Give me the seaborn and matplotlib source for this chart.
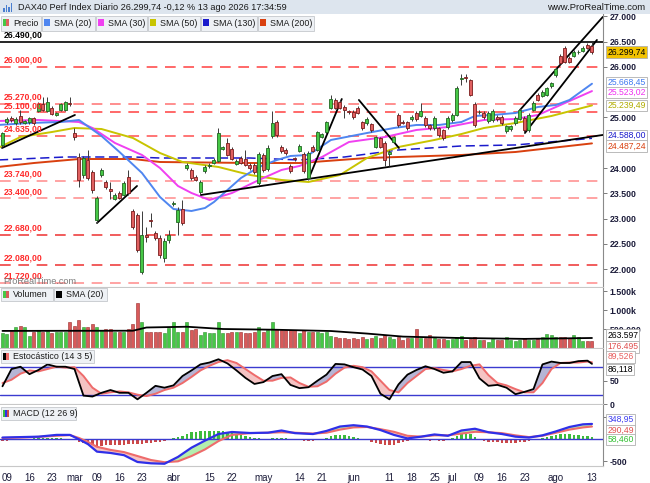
import numpy as np
import pandas as pd
import matplotlib
matplotlib.use("Agg")
import matplotlib.pyplot as plt
from matplotlib.patches import Rectangle
import seaborn as sns

# trading days (Xetra holidays removed)
dates = pd.bdate_range("2026-02-06", "2026-08-13")
dates = dates.drop(pd.to_datetime(["2026-04-03", "2026-04-06", "2026-05-01"]))
bars = np.arange(len(dates))

open_ = [24460, 24910, 24990, 24890, 25030, 24890, 24910, 24990, 25130, 25270, 25130, 25190, 25050, 25150, 25150, 25290,
         24690, 24220, 23860, 24160, 23920, 22970, 23860, 23720, 23590, 23390, 23500, 23470, 23820, 23150, 23070, 21940,
         22670, 22970, 22710, 22610, 22220, 22570, 23290, 22930, 23190, 24000, 23960, 23820, 23530, 23940, 24030, 24100,
         24140, 24380, 24500, 24380, 24080, 24200, 24180, 24060, 24060, 23700, 24260, 23980, 24630, 24910, 24420, 24360,
         24040, 24190, 24340, 24280, 23800, 24420, 24360, 24620, 24710, 25190, 25350, 25310, 25210, 25120, 25110, 25190,
         24910, 24890, 24870, 24420, 24590, 24500, 24280, 24520, 25050, 24920, 24910, 24970, 25090, 25030, 24990, 24850,
         24790, 24790, 24750, 24810, 24950, 25050, 25770, 25800, 25740, 25270, 25100, 25090, 24930, 24950, 25010, 25010,
         24730, 24770, 24890, 24970, 24990, 24750, 25150, 25450, 25430, 25450, 25620, 25840, 26220, 26380, 26180, 26220,
         26290, 26320, 26440, 26420]
close = [24690, 24970, 24950, 24970, 24910, 24930, 24990, 24890, 25270, 25150, 25310, 25070, 25090, 25270, 25310, 25270,
         24610, 23760, 24200, 23800, 23560, 23410, 23960, 23620, 23550, 23470, 23410, 23700, 23500, 22830, 22380, 22670,
         22630, 22950, 22610, 22280, 22560, 22670, 23310, 23170, 22910, 24060, 23800, 23770, 23720, 24020, 24050, 24160,
         24690, 24410, 24260, 24180, 24140, 24100, 24060, 24000, 23920, 24280, 23960, 24400, 24890, 24650, 24340, 24300,
         23940, 24170, 24440, 23940, 24300, 24340, 24710, 24670, 24910, 25370, 25190, 25190, 25150, 25100, 25010, 25090,
         24790, 24970, 24750, 24610, 24420, 24160, 24320, 24610, 24850, 24900, 24790, 25010, 24970, 25130, 24850, 24790,
         24990, 24650, 24590, 24990, 25050, 25580, 25790, 25780, 25450, 24850, 25110, 25010, 25090, 25130, 24970, 24890,
         24830, 24830, 24990, 25150, 24750, 25050, 25290, 25350, 25510, 25580, 25680, 25960, 26080, 26100, 26100, 26300,
         26300, 26380, 26380, 26299.74]
high = [24720, 25010, 25020, 25000, 25150, 24960, 25010, 25010, 25300, 25400, 25400, 25220, 25110, 25290, 25330, 25400,
        24790, 24300, 24240, 24360, 23960, 23440, 24000, 23760, 23720, 23500, 23540, 23740, 23960, 23190, 23110, 23150,
        22830, 23110, 22750, 22670, 22610, 22770, 23350, 23230, 23370, 24100, 24000, 23860, 23760, 24050, 24100, 24190,
        24790, 24440, 24600, 24410, 24170, 24230, 24360, 24090, 24100, 24320, 24300, 24450, 25120, 24950, 24460, 24390,
        24080, 24220, 24470, 24310, 24340, 24450, 24740, 24700, 24940, 25440, 25380, 25340, 25240, 25150, 25140, 25220,
        24940, 25000, 24900, 24640, 24620, 24530, 24360, 24640, 25080, 24950, 24940, 25040, 25120, 25280, 25020, 24880,
        25020, 24820, 24780, 25020, 25080, 25620, 25870, 25860, 25770, 25300, 25150, 25120, 25120, 25160, 25040, 25040,
        24860, 24860, 25020, 25180, 25020, 25080, 25320, 25480, 25540, 25610, 25710, 25990, 26250, 26410, 26210, 26330,
        26340, 26420, 26480, 26500]
low = [24420, 24880, 24920, 24860, 24880, 24870, 24880, 24860, 25100, 25120, 25110, 25040, 25030, 25130, 25120, 25220,
       24560, 23630, 23800, 23760, 23500, 22920, 23820, 23580, 23380, 23360, 23380, 23440, 23470, 22790, 22340, 21900,
       22540, 22830, 22580, 22220, 22140, 22510, 23250, 22670, 22870, 23960, 23770, 23740, 23470, 23900, 24000, 24070,
       24120, 24350, 24230, 24150, 24050, 24070, 24030, 23970, 23890, 23660, 23920, 23940, 24600, 24620, 24300, 24260,
       23900, 24140, 24310, 23900, 23770, 24310, 24330, 24590, 24680, 25160, 25160, 25160, 24990, 25070, 24980, 25060,
       24760, 24860, 24720, 24390, 24390, 24040, 24040, 24490, 24820, 24870, 24760, 24940, 24940, 25000, 24820, 24760,
       24760, 24620, 24560, 24780, 24920, 25020, 25640, 25700, 25420, 24820, 25060, 24980, 24900, 24920, 24940, 24860,
       24700, 24740, 24860, 24950, 24720, 24720, 25120, 25320, 25400, 25420, 25590, 25810, 26050, 26070, 26070, 26190,
       26250, 26290, 26350, 26260]

# volume in thousands
volume = [386, 360, 447, 561, 588, 561, 325, 421, 474, 421, 447, 386, 421, 421, 421, 675,
          579, 737, 544, 544, 623, 544, 474, 491, 491, 430, 421, 421, 491, 632, 1175, 693,
          430, 421, 421, 421, 386, 518, 693, 421, 421, 693, 474, 491, 342, 421, 386, 386,
          693, 386, 386, 421, 421, 421, 386, 386, 421, 544, 421, 474, 693, 491, 474, 474,
          474, 474, 386, 474, 421, 421, 421, 386, 421,
          316, 281, 254, 254, 228, 254, 228, 281, 228, 254, 316, 254, 342, 281, 228, 281,
          210, 254, 254, 500, 254, 254, 342, 254, 228, 228, 210, 228, 281, 316, 210, 228,
          281, 210, 210, 167, 228, 210, 210, 281, 210, 193, 210, 254, 210, 210, 228, 281,
          368, 342, 281, 281, 281, 254, 342, 281, 193, 193, 176.495]
vol_sma_bars = [0, 29, 32, 41, 49, 61, 73, 81, 89, 101, 116, 131]
vol_sma_vals = [450, 455, 540, 560, 500, 480, 447, 380, 300, 265, 240, 263.597]

# moving averages on price (vertices)
sma20_bars = [-1, 6, 13, 17, 22, 26, 31, 35, 38, 42, 45, 47, 50, 53, 57, 61, 64, 68, 73, 81, 87, 92, 97, 102, 105,
              109, 114, 119, 123, 126, 131]
sma20_vals = [24852, 24891, 24911, 24951, 24634, 24317, 23901, 23426, 23188, 23149, 23208, 23327, 23565, 23802, 24020,
              24159, 24238, 24258, 24555, 24693, 24792, 24852, 24852, 24911, 25030, 25050, 25089, 25208, 25248, 25347,
              25668.45]
sma30_bars = [-1, 8, 17, 20, 25, 31, 35, 39, 42, 46, 51, 57, 62, 66, 71, 77, 85, 92, 99, 107, 114, 119, 123, 131]
sma30_vals = [24931, 24951, 24911, 24792, 24495, 24258, 24000, 23644, 23505, 23367, 23505, 23763, 23961, 24040, 24218,
              24515, 24614, 24753, 24812, 24951, 24970, 25050, 25208, 25523.02]
sma50_bars = [-1, 4, 11, 16, 22, 29, 35, 40, 48, 55, 62, 68, 75, 81, 88, 96, 102, 107, 114, 122, 131]
sma50_vals = [24396, 24614, 24713, 24792, 24772, 24594, 24297, 24119, 24020, 23862, 23763, 23723, 23862, 24198, 24416,
              24555, 24673, 24792, 24891, 25030, 25239.49]
sma130_bars = [-1, 14, 29, 35, 55, 66, 76, 88, 102, 114, 131]
sma130_vals = [24159, 24218, 24218, 24198, 24198, 24159, 24218, 24357, 24436, 24456, 24588.00]
sma200_bars = [-1, 7, 17, 29, 35, 55, 66, 81, 102, 114, 131]
sma200_vals = [24020, 24099, 24178, 24178, 24119, 24099, 24099, 24198, 24258, 24317, 24487.24]

# drawn trend lines: (bar0, price0, bar1, price1)
trend_lines = [(-0.1, 24396, 16.1, 25050), (21, 22911, 29.9, 23644), (44.1, 23466, 133.4, 24654),
               (68.1, 23802, 75.4, 25366), (79.2, 25347, 88.1, 24396), (115, 25149, 133.4, 26990),
               (116.1, 24693, 132.1, 26535)]
levels = [26000, 25270, 25100, 24635, 23740, 23400, 22680, 22080, 21720]
level_colors = ["#ff4040", "#ff7070", "#ff4040", "#ff5050", "#ff8a8a", "#ff8a8a", "#ee3030", "#ee3030", "#ff8a8a"]
resistance = 26490

# stochastic (14 3 5)
stoch_bars = list(range(0, 131, 2)) + [131]
stoch_k = [38, 75, 80, 64, 73, 85, 80, 80, 75, 18, 16, 24, 30, 24, 24, 10, 24, 39, 35, 40, 60, 72, 85, 89, 96, 87,
           72, 56, 43, 47, 60, 64, 41, 34, 36, 50, 63, 86, 85, 79, 74, 60, 22, 10, 42, 63, 73, 81, 75, 67, 70, 90,
           90, 55, 39, 41, 35, 21, 26, 32, 85, 91, 88, 88, 92, 93, 86.118]
stoch_d = [45, 52, 65, 72, 70, 75, 80, 78, 79, 60, 35, 22, 25, 27, 25, 20, 17, 22, 30, 35, 45, 58, 72, 82, 90, 94,
           88, 75, 62, 50, 50, 56, 57, 45, 37, 38, 48, 65, 78, 82, 79, 70, 50, 30, 25, 45, 60, 75, 77, 73, 70, 75,
           82, 85, 62, 45, 40, 32, 25, 25, 45, 75, 88, 89, 89, 91, 89.526]

# MACD (12 26 9)
macd_bars = [0, 4, 8, 12, 15, 17, 19, 21, 24, 27, 30, 33, 36, 39, 42, 45, 48, 51, 55, 59, 62, 65, 69, 72, 75, 78,
             81, 84, 87, 90, 93, 96, 99, 102, 105, 108, 111, 114, 117, 120, 123, 126, 129, 131]
macd_line = [40, 50, 60, 100, 100, 0, -110, -280, -310, -360, -515, -545, -555, -400, -190, -30, 120, 166, 143, 150,
             200, 140, 120, 190, 290, 320, 290, 210, 100, 20, 60, 110, 80, 200, 240, 160, 120, 60, 40, 90, 180, 280,
             340, 348.95]
macd_signal = [30, 40, 55, 80, 95, 30, -60, -170, -240, -290, -380, -470, -520, -500, -380, -230, -40, 100, 140, 150,
               160, 150, 130, 150, 220, 270, 280, 230, 170, 80, 60, 90, 90, 130, 170, 160, 140, 90, 50, 80, 150, 220,
               270, 290.49]
macd_hist = [-40, -30, -20, -10, 0, 10, 10, 20, 30, 30, 30, 20, 20, 20, 10, 10,
             -20, -60, -90, -120, -140, -160, -150, -140, -130, -130, -120, -120, -110, -110, -110, -100, -90, -80,
             -70, -60, -40, -20,
             20, 50, 80, 120, 160, 170, 180, 180, 185, 185, 185, 180, 170, 150, 130, 100, 70, 50, 30, 20, 10, 10,
             30, 40, 30, 20, 0, -10, -20, -30, -40, -30, -10, 10,
             40, 70, 90, 100, 90, 80, 60, 40, 10, -20, -50, -80, -110, -130, -140, -120, -90, -60, -40, -10,
             0, 10, -20, -30, -20, -30, -40, -20, 20, 80, 120, 130, 110, 60, 10, -30, -50, -60, -70, -80, -90, -80,
             -80, -60, -60, -40, -20, 0, 20, 50, 80, 100, 110, 120, 110, 100, 90, 80, 70, 58.46]

tick_dates = ["2026-02-09", "2026-02-16", "2026-02-23", "2026-03-02", "2026-03-09", "2026-03-16", "2026-03-23",
              "2026-04-01", "2026-04-15", "2026-04-22", "2026-05-04", "2026-05-14", "2026-05-21", "2026-06-01",
              "2026-06-11", "2026-06-18", "2026-06-25", "2026-07-01", "2026-07-09", "2026-07-16", "2026-07-23",
              "2026-08-03", "2026-08-13"]
tick_labels = ["09", "16", "23", "mar", "09", "16", "23", "abr", "15", "22", "may", "14", "21", "jun",
               "11", "18", "25", "jul", "09", "16", "23", "ago", "13"]

sns.set_style("white")
plt.rcParams["font.family"] = ["Liberation Sans", "DejaVu Sans"]

W, H = 650, 483
fig = plt.figure(figsize=(W / 100, H / 100), dpi=100)


def px_axes(x0, y0, x1, y1):
    return fig.add_axes([x0 / W, 1 - y1 / H, (x1 - x0) / W, (y1 - y0) / H])


def fmt(v, dec=0):
    s = f"{v:,.{dec}f}"
    return s.replace(",", "X").replace(".", ",").replace("X", ".")


ax_p = px_axes(0, 14, 603, 287)
ax_v = px_axes(0, 288, 603, 348)
ax_s = px_axes(0, 349, 603, 404)
ax_m = px_axes(0, 405, 603, 466)
axes = [ax_p, ax_v, ax_s, ax_m]
xlim = (-0.55, 133.45)
for ax in axes:
    ax.set_xlim(*xlim)
    ax.set_facecolor("white")
    for s in ["top", "left"]:
        ax.spines[s].set_visible(False)
    ax.spines["right"].set_color("#8a8a8a")
    ax.spines["bottom"].set_color("#c8c8c8")
    ax.yaxis.tick_right()
    ax.tick_params(axis="y", direction="out", length=3, width=0.6, color="#666666",
                   labelsize=6.3, labelcolor="#1c1c3a", pad=2)
    ax.set_xticks([])

o = np.array(open_, dtype=float)
c = np.array(close, dtype=float)
h = np.array(high, dtype=float)
lo = np.array(low, dtype=float)
up = c >= o

# ---- price panel
ax_p.set_ylim(21644, 27049)
for lev, col in zip(levels, level_colors):
    ax_p.axhline(lev, color=col, lw=1.1, ls=(0, (7, 5)), zorder=1)
    ax_p.text(0.006, lev + 45, fmt(lev, 2), transform=ax_p.get_yaxis_transform(), color="#ff2a2a",
              fontsize=6.2, fontweight="bold", va="bottom", ha="left", zorder=8)
ax_p.axhline(resistance, color="black", lw=1.2, zorder=2)
ax_p.text(0.006, resistance + 45, fmt(resistance, 2), transform=ax_p.get_yaxis_transform(), color="black",
          fontsize=6.2, fontweight="bold", va="bottom", ha="left", zorder=8)

sns.lineplot(x=sma200_bars, y=sma200_vals, ax=ax_p, color="#d9400f", lw=1.4, zorder=2)
sns.lineplot(x=sma130_bars, y=sma130_vals, ax=ax_p, color="#1a1acc", lw=1.1, ls=(0, (6, 3)), zorder=2)
sns.lineplot(x=sma50_bars, y=sma50_vals, ax=ax_p, color="#c8c400", lw=1.4, zorder=2)
sns.lineplot(x=sma30_bars, y=sma30_vals, ax=ax_p, color="#f040f0", lw=1.4, zorder=2)
sns.lineplot(x=sma20_bars, y=sma20_vals, ax=ax_p, color="#4f86f0", lw=1.4, zorder=2)

for x0, y0, x1, y1 in trend_lines:
    ax_p.plot([x0, x1], [y0, y1], color="black", lw=1.3, zorder=5)

ax_p.vlines(bars, lo, h, color="#3a3a3a", lw=0.7, zorder=6)
body_lo = np.minimum(o, c)
body_h = np.maximum(np.abs(c - o), 14)
ax_p.bar(bars, body_h, bottom=body_lo, width=0.66,
         color=np.where(up, "#46c846", "#e06060"), edgecolor=np.where(up, "#226622", "#7a1c1c"),
         lw=0.6, zorder=7)
price_ticks = [22000, 22500, 23000, 23500, 24000, 25000, 26000, 26500, 27000]
ax_p.set_yticks(price_ticks)
ax_p.set_yticklabels([fmt(v) for v in price_ticks], fontweight="bold")
ax_p.set_xlabel("")
ax_p.set_ylabel("")


def value_box(ax, val, text, tcolor, dy=0, fc="white", bold=False):
    ax.annotate(text, xy=(1.0, val), xycoords=ax.get_yaxis_transform(), xytext=(3, dy),
                textcoords="offset points", ha="left", va="center", fontsize=6.2, color=tcolor,
                fontweight="bold" if bold else "normal", annotation_clip=False, zorder=20,
                bbox=dict(boxstyle="square,pad=0.15", fc=fc, ec="#b0b0b0", lw=0.6))


value_box(ax_p, close[-1], fmt(close[-1], 2), "black", fc="#f2c200")
value_box(ax_p, sma20_vals[-1], fmt(sma20_vals[-1], 2), "#3f7af0", dy=1)
value_box(ax_p, sma30_vals[-1], fmt(sma30_vals[-1], 2), "#f030f0", dy=-1)
value_box(ax_p, sma50_vals[-1], fmt(sma50_vals[-1], 2), "#b0ac00")
value_box(ax_p, sma130_vals[-1], fmt(sma130_vals[-1], 2), "#1a1acc", dy=2)
value_box(ax_p, sma200_vals[-1], fmt(sma200_vals[-1], 2), "#d9400f", dy=-2)

# ---- volume panel
ax_v.set_ylim(0, 1580)
ax_v.bar(bars, volume, width=0.66, color=np.where(up, "#46c846", "#d85a5a"),
         edgecolor=np.where(up, "#2f8f2f", "#9a2a2a"), lw=0.4, zorder=2)
sns.lineplot(x=vol_sma_bars, y=vol_sma_vals, ax=ax_v, color="black", lw=1.3, zorder=3)
ax_v.set_yticks([500, 1000, 1500])
ax_v.set_yticklabels(["500.000", "1.000k", "1.500k"], fontweight="bold")
value_box(ax_v, vol_sma_vals[-1], fmt(vol_sma_vals[-1] * 1000), "black", dy=2)
value_box(ax_v, volume[-1], fmt(volume[-1] * 1000), "#e05050", dy=-4)
ax_v.set_xlabel("")
ax_v.set_ylabel("")

# ---- stochastic panel
ax_s.set_ylim(0, 118)
k = np.array(stoch_k)
d = np.array(stoch_d)
ax_s.fill_between(stoch_bars, k, d, where=k >= d, interpolate=True, color="#9c9cc8", alpha=0.75, lw=0)
ax_s.fill_between(stoch_bars, k, d, where=k < d, interpolate=True, color="#f3b4b4", alpha=0.8, lw=0)
ax_s.axhline(80, color="#3b3bd0", lw=1.0)
ax_s.axhline(20, color="#3b3bd0", lw=1.0)
sns.lineplot(x=stoch_bars, y=stoch_d, ax=ax_s, color="#ee6b6b", lw=1.4)
sns.lineplot(x=stoch_bars, y=stoch_k, ax=ax_s, color="black", lw=1.3)
ax_s.set_yticks([0, 50])
ax_s.set_yticklabels(["0", "50"], fontweight="bold")
value_box(ax_s, stoch_d[-1], fmt(stoch_d[-1], 3), "#e86060", dy=4)
value_box(ax_s, stoch_k[-1], fmt(stoch_k[-1], 3), "black", dy=-4)
ax_s.set_xlabel("")
ax_s.set_ylabel("")

# ---- MACD panel
ax_m.set_ylim(-606, 779)
ml = np.array(macd_line)
ms = np.array(macd_signal)
hist = np.array(macd_hist)
ax_m.bar(bars, hist, width=0.6, color=np.where(hist >= 0, "#3cbc3c", "#cc4848"), lw=0, zorder=2)
ax_m.fill_between(macd_bars, ml, ms, where=ml >= ms, interpolate=True, color="#a6eaa0", alpha=0.85, lw=0,
                  zorder=1)
ax_m.fill_between(macd_bars, ml, ms, where=ml < ms, interpolate=True, color="#f3b8b8", alpha=0.85, lw=0,
                  zorder=1)
ax_m.axhline(0, color="#3b3bd0", lw=1.0, zorder=3)
sns.lineplot(x=macd_bars, y=macd_signal, ax=ax_m, color="#ee6b6b", lw=1.5, zorder=4)
sns.lineplot(x=macd_bars, y=macd_line, ax=ax_m, color="#2f2fe8", lw=1.6, zorder=5)
ax_m.set_yticks([-500, 500])
ax_m.set_yticklabels(["-500", "500"], fontweight="bold")
value_box(ax_m, macd_line[-1], fmt(macd_line[-1], 2), "#3f3ff0", dy=3)
value_box(ax_m, macd_signal[-1], fmt(macd_signal[-1], 2), "#e05050", dy=-3)
value_box(ax_m, macd_hist[-1], fmt(macd_hist[-1], 3), "#33c033", dy=-2)
tick_pos = [dates.get_loc(pd.Timestamp(t)) for t in tick_dates]
ax_m.set_xticks(tick_pos)
ax_m.set_xticklabels(tick_labels)
ax_m.tick_params(axis="x", direction="out", length=3, width=0.6, color="#666666", labelsize=7,
                 labelcolor="#1c1c3a", pad=2)
ax_m.set_xlabel("")
ax_m.set_ylabel("")

# ---- header, legends, watermark
fig.add_artist(Rectangle((0, 1 - 14 / H), 1, 14 / H, transform=fig.transFigure, fc="#dde5ee", ec="none"))
for j, hh in enumerate([4, 7, 5, 9]):
    fig.add_artist(Rectangle(((3 + j * 2.6) / W, 1 - 12 / H), 1.6 / W, hh / H, transform=fig.transFigure,
                             fc="#4a7fd0", ec="none"))
fig.text(18 / W, 1 - 8 / H, "DAX40 Perf Index Diario 26.299,74 -0,12 % 13 ago 2026 17:34:59",
         fontsize=6.6, color="#1a1a1a", va="center", ha="left")
fig.text(645 / W, 1 - 8 / H, "www.ProRealTime.com", fontsize=6.8, color="#1a1a1a", va="center", ha="right")


def legend_box(x0, x1, y0, y1, text, swatch):
    fig.add_artist(Rectangle((x0 / W, 1 - y1 / H), (x1 - x0) / W, (y1 - y0) / H, transform=fig.transFigure,
                             fc="#eef1f5", ec="#c4c8cc", lw=0.6, zorder=10))
    n = len(swatch)
    for j, col in enumerate(swatch):
        fig.add_artist(Rectangle(((x0 + 2 + j * 6 / n) / W, 1 - (y0 + 10) / H), (6 / n) / W, 7 / H,
                                 transform=fig.transFigure, fc=col, ec="none", zorder=11))
    fig.text((x0 + 12) / W, 1 - (y0 + y1) / 2 / H, text, fontsize=6.4, color="#1a1a1a", va="center",
             ha="left", zorder=12)


legend_box(1, 41, 16, 31, "Precio", ["#46c846", "#e06060"])
legend_box(42, 95, 16, 31, "SMA (20)", ["#4f86f0"])
legend_box(96, 147, 16, 31, "SMA (30)", ["#f040f0"])
legend_box(148, 200, 16, 31, "SMA (50)", ["#c8c400"])
legend_box(201, 257, 16, 31, "SMA (130)", ["#1a1acc"])
legend_box(258, 314, 16, 31, "SMA (200)", ["#d9400f"])
legend_box(1, 53, 288, 301, "Volumen", ["#46c846", "#d85a5a"])
legend_box(54, 107, 288, 301, "SMA (20)", ["black"])
legend_box(1, 94, 350, 363, "Estocástico (14 3 5)", ["black", "#ee6b6b"])
legend_box(1, 76, 407, 420, "MACD (12 26 9)", ["#3cbc3c", "#2f2fe8", "#cc4848"])
fig.text(3 / W, 1 - 282 / H, "ProRealTime.com", fontsize=6.6, color="#7a7a7a", va="center", ha="left")

fig.savefig("out.png", dpi=100, facecolor="white")
